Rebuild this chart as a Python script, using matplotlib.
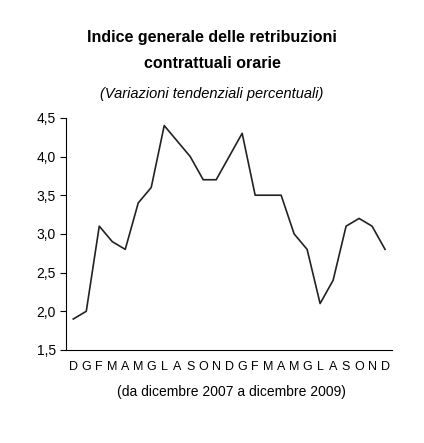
import matplotlib
matplotlib.use("Agg")
import matplotlib.pyplot as plt

months = list("DGFMAMGLASONDGFMAMGLASOND")
values = [1.9, 2.0, 3.1, 2.9, 2.8, 3.4, 3.6, 4.4, 4.2, 4.0, 3.7, 3.7, 4.0,
          4.3, 3.5, 3.5, 3.5, 3.0, 2.8, 2.1, 2.4, 3.1, 3.2, 3.1, 2.8]
yticks = [1.5, 2.0, 2.5, 3.0, 3.5, 4.0, 4.5]

plt.rcParams['font.family'] = ['Liberation Sans', 'DejaVu Sans']

fig = plt.figure(figsize=(4.24, 4.43), dpi=100)
ax = fig.add_axes([0.156, 0.21, 0.769, 0.524])
x = range(len(values))
ax.plot(x, values, color="#222222", lw=1.2)
ax.set_xlim(-0.55, len(values) - 0.45)
ax.set_ylim(1.5, 4.5)
ax.set_yticks(yticks)
ax.set_yticklabels([f"{v:.1f}".replace(".", ",") for v in yticks], fontsize=10)
ax.set_xticks(list(x))
ax.set_xticklabels(months, fontsize=9)
ax.tick_params(axis="x", length=0, pad=8)
ax.tick_params(axis="y", length=4, direction="out")
for s in ("top", "right"):
    ax.spines[s].set_visible(False)

fig.text(0.5, 0.905, "Indice generale delle retribuzioni", ha="center",
         fontsize=11.5, fontweight="bold")
fig.text(0.5, 0.847, "contrattuali orarie", ha="center", fontsize=11.5, fontweight="bold")
fig.text(0.5, 0.778, "(Variazioni tendenziali percentuali)", ha="center",
         fontsize=10.5, style="italic")
fig.text(0.545, 0.105, "(da dicembre 2007 a dicembre 2009)", ha="center", fontsize=10)

fig.savefig("out.png", dpi=100)
